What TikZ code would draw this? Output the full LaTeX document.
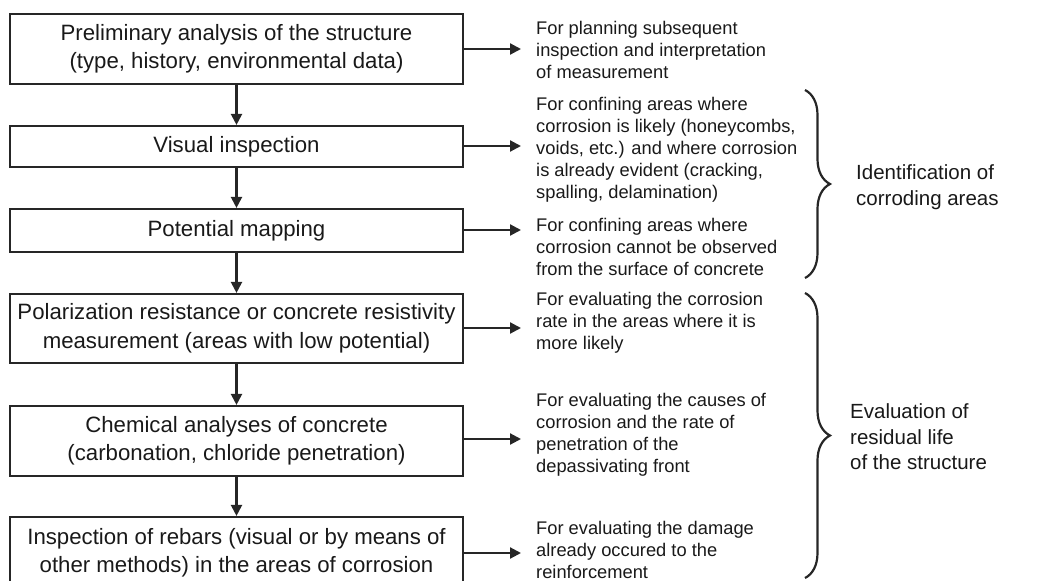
\documentclass[tikz,border=0pt]{standalone}
\usepackage{fontspec}
\setmainfont{Liberation Sans}
\usetikzlibrary{arrows.meta,decorations.pathreplacing}
\begin{document}
\begin{tikzpicture}[x=1pt,y=-1pt,
  stepbox/.style={draw=black!85,line width=2.2pt,minimum width=453pt,inner sep=0pt,
    align=center,font=\fontsize{22.2}{28.5}\selectfont,text=black!90},
  note/.style={anchor=west,inner sep=0pt,align=left,
    font=\fontsize{18.3}{22}\selectfont,text=black!90},
  group/.style={anchor=west,inner sep=0pt,align=left,
    font=\fontsize{20.5}{25.5}\selectfont,text=black!90},
  flow/.style={draw=black!85,line width=2.2pt,-{Triangle[length=11pt,width=11pt]}},
  curly/.style={draw=black!85,line width=2.2pt,
    decorate,decoration={brace,amplitude=25pt}}]
\useasboundingbox (0,0) rectangle (1042,581);

% main sequence of steps
\node[stepbox,minimum height=70pt] (s1) at (236.5,49)
  {Preliminary analysis of the structure\\(type, history, environmental data)};
\node[stepbox,minimum height=41pt] (s2) at (236.5,146.5) {Visual inspection};
\node[stepbox,minimum height=43pt] (s3) at (236.5,230.5) {Potential mapping};
\node[stepbox,minimum height=69pt] (s4) at (236.5,328.5)
  {Polarization resistance or concrete resistivity\\measurement (areas with low potential)};
\node[stepbox,minimum height=70pt] (s5) at (236.5,441)
  {Chemical analyses of concrete\\(carbonation, chloride penetration)};
\node[stepbox,minimum height=71pt] (s6) at (236.5,552.5)
  {Inspection of rebars (visual or by means of\\other methods) in the areas of corrosion};

\foreach \a/\b in {s1/s2,s2/s3,s3/s4,s4/s5,s5/s6}
  \draw[flow] (\a.south) -- (\b.north);

% purpose of each step
\coordinate (e1) at (521,49);
\coordinate (e2) at (521,146);
\coordinate (e3) at (521,230);
\coordinate (e4) at (521,328);
\coordinate (e5) at (521,439);
\coordinate (e6) at (521,553);
\draw[flow] (s1.east |- e1) -- (e1);
\draw[flow] (s2.east |- e2) -- (e2);
\draw[flow] (s3.east |- e3) -- (e3);
\draw[flow] (s4.east |- e4) -- (e4);
\draw[flow] (s5.east |- e5) -- (e5);
\draw[flow] (s6.east |- e6) -- (e6);

\node[note] (n1) at (536,50)
  {For planning subsequent\\inspection and interpretation\\of measurement};
\node[note] (n2) at (536,150)
  {For confining areas where\\corrosion is likely (honeycombs,\\voids, etc.) and where corrosion\\is already evident (cracking,\\spalling, delamination)};
\node[note] (n3) at (536,247)
  {For confining areas where\\corrosion cannot be observed\\from the surface of concrete};
\node[note] (n4) at (536,323)
  {For evaluating the corrosion\\rate in the areas where it is\\more likely};
\node[note] (n5) at (536,435)
  {For evaluating the causes of\\corrosion and the rate of\\penetration of the\\depassivating front};
\node[note] (n6) at (536,550)
  {For evaluating the damage\\already occured to the\\reinforcement};

% grouping braces
\coordinate (b1t) at (805,90);
\coordinate (b1b) at (805,278);
\coordinate (b2t) at (805,293);
\coordinate (b2b) at (805,578);
\draw[curly] (b1t) -- (b1b);
\draw[curly] (b2t) -- (b2b);

\node[group] (g1) at (856,187) {Identification of\\corroding areas};
\node[group] (g2) at (850,437) {Evaluation of\\residual life\\of the structure};
\end{tikzpicture}
\end{document}
